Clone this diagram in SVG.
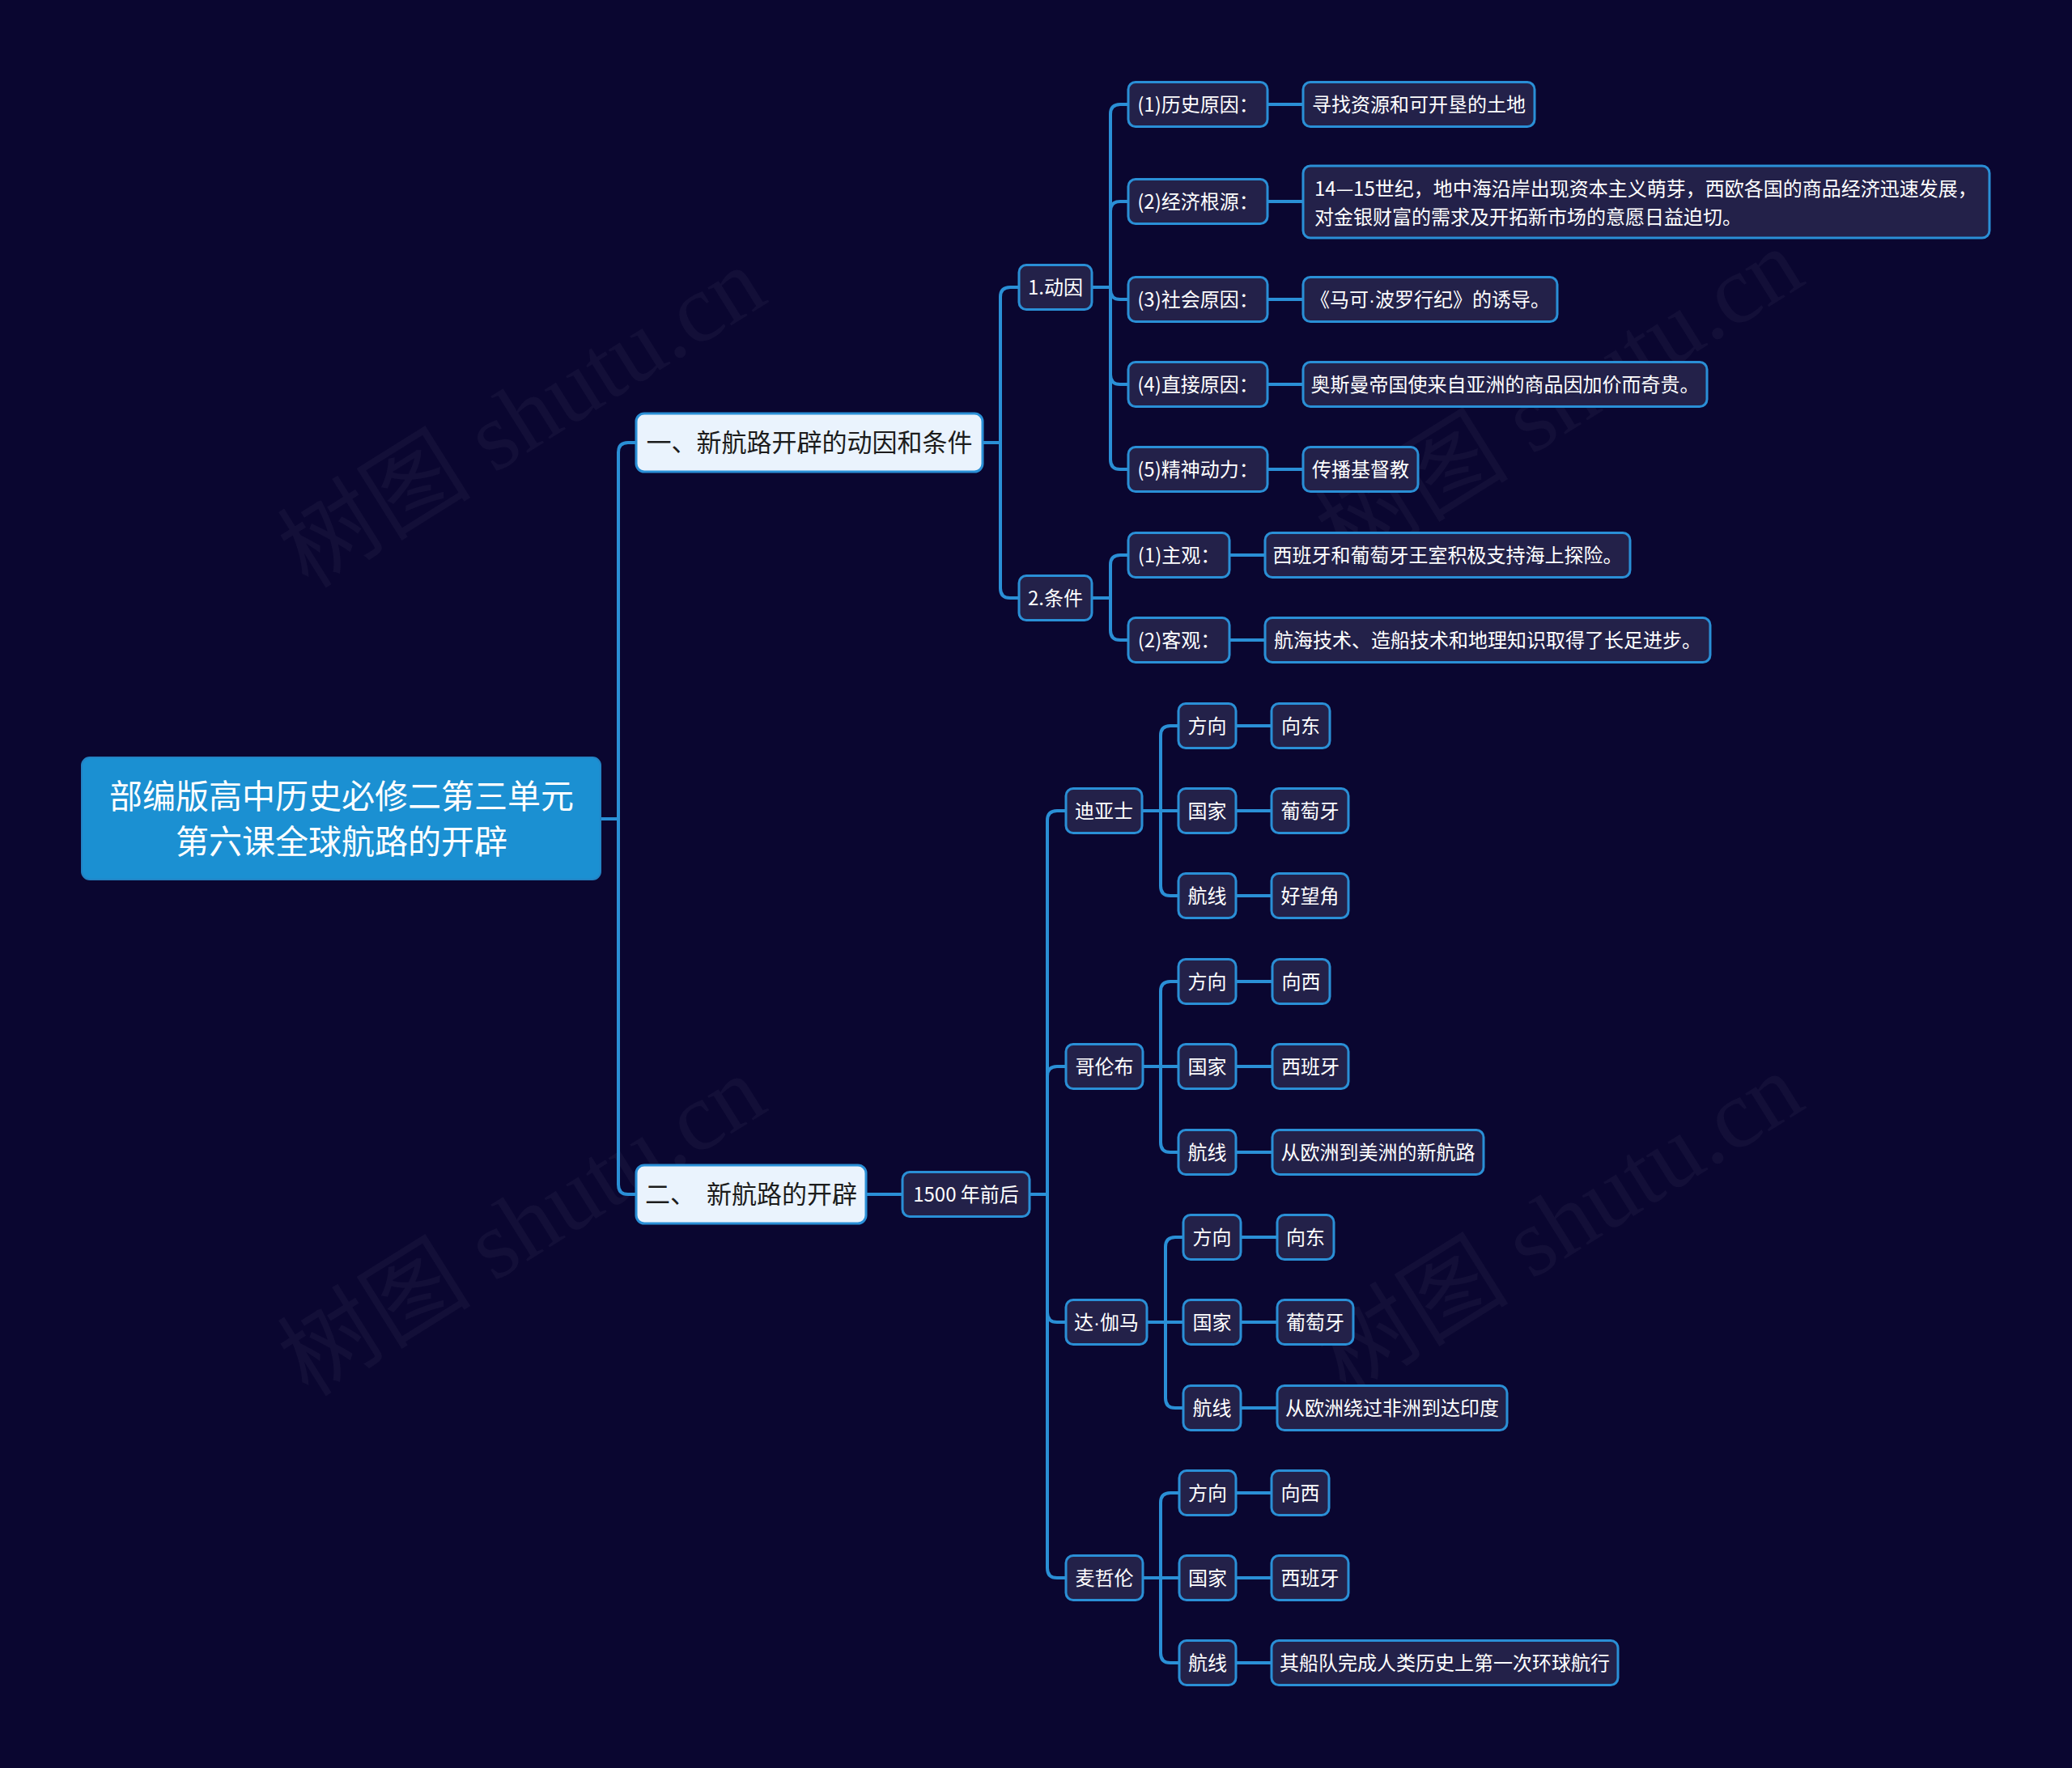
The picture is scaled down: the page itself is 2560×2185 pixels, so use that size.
<svg xmlns="http://www.w3.org/2000/svg" width="2560" height="2185" viewBox="0 0 2560 2185">
<defs>
<style>
.bg{fill:#0a0630}
.wm{font-family:"Liberation Serif","Noto Sans CJK SC",serif;font-size:120px;fill:#ffffff;fill-opacity:0.04}
.link{fill:none;stroke:#2a8fd6;stroke-width:4;stroke-linecap:round;stroke-linejoin:round}
.root rect{fill:#1b90d2;stroke:#2383c4;stroke-width:2}
.root text{font-family:"Noto Sans CJK SC","Noto Sans CJK JP",sans-serif;font-size:41px;fill:#ffffff;text-anchor:middle}
.l1 rect{fill:#eaf3fd;stroke:#2a8fd6;stroke-width:3}
.l1 text{font-family:"Noto Sans CJK SC","Noto Sans CJK JP",sans-serif;font-size:31px;fill:#1c1c1c;text-anchor:middle;white-space:pre}
.n rect{fill:#232149;stroke:#2a8fd6;stroke-width:3}
.n text{font-family:"Noto Sans CJK SC","Noto Sans CJK JP",sans-serif;font-size:24px;fill:#ffffff;text-anchor:middle}
.n text.left{text-anchor:start}
.dot{font-family:"Liberation Sans",sans-serif}
</style>
</defs>
<rect class="bg" x="0" y="0" width="2560" height="2185"/>
<g id="watermarks">
<text class="wm" x="645" y="516" text-anchor="middle" dominant-baseline="central" transform="rotate(-32 645 516)">树图 shutu.cn</text>
<text class="wm" x="645" y="1515" text-anchor="middle" dominant-baseline="central" transform="rotate(-32 645 1515)">树图 shutu.cn</text>
<text class="wm" x="1927" y="493" text-anchor="middle" dominant-baseline="central" transform="rotate(-32 1927 493)">树图 shutu.cn</text>
<text class="wm" x="1927" y="1512" text-anchor="middle" dominant-baseline="central" transform="rotate(-32 1927 1512)">树图 shutu.cn</text>
</g>
<g id="connectors">
<path class="link" d="M742 1012 H764 V559 Q764 547 776 547 H786"/>
<path class="link" d="M742 1012 H764 V1464 Q764 1476 776 1476 H786"/>
<path class="link" d="M1214 547 H1236 V367 Q1236 355 1248 355 H1259"/>
<path class="link" d="M1214 547 H1236 V727 Q1236 739 1248 739 H1259"/>
<path class="link" d="M1349 355 H1372 V141 Q1372 129 1384 129 H1394"/>
<path class="link" d="M1349 355 H1372 V261 Q1372 249 1384 249 H1394"/>
<path class="link" d="M1349 355 H1372 V358 Q1372 370 1384 370 H1394"/>
<path class="link" d="M1349 355 H1372 V463 Q1372 475 1384 475 H1394"/>
<path class="link" d="M1349 355 H1372 V568 Q1372 580 1384 580 H1394"/>
<path class="link" d="M1349 739 H1372 V698 Q1372 686 1384 686 H1394"/>
<path class="link" d="M1349 739 H1372 V779 Q1372 791 1384 791 H1394"/>
<path class="link" d="M1566 129 H1610"/>
<path class="link" d="M1566 249 H1610"/>
<path class="link" d="M1566 370 H1610"/>
<path class="link" d="M1566 475 H1610"/>
<path class="link" d="M1566 580 H1610"/>
<path class="link" d="M1519 686 H1563"/>
<path class="link" d="M1519 791 H1563"/>
<path class="link" d="M1070 1476 H1115"/>
<path class="link" d="M1272 1476 H1294 V1014 Q1294 1002 1306 1002 H1317"/>
<path class="link" d="M1272 1476 H1294 V1330 Q1294 1318 1306 1318 H1317"/>
<path class="link" d="M1272 1476 H1294 V1622 Q1294 1634 1306 1634 H1317"/>
<path class="link" d="M1272 1476 H1294 V1938 Q1294 1950 1306 1950 H1317"/>
<path class="link" d="M1411 1002 H1434 V909 Q1434 897 1446 897 H1456"/>
<path class="link" d="M1411 1002 H1456"/>
<path class="link" d="M1411 1002 H1434 V1095 Q1434 1107 1446 1107 H1456"/>
<path class="link" d="M1527 897 H1571"/>
<path class="link" d="M1527 1002 H1571"/>
<path class="link" d="M1527 1107 H1571"/>
<path class="link" d="M1412 1318 H1434 V1225 Q1434 1213 1446 1213 H1456"/>
<path class="link" d="M1412 1318 H1456"/>
<path class="link" d="M1412 1318 H1434 V1412 Q1434 1424 1446 1424 H1456"/>
<path class="link" d="M1527 1213 H1572"/>
<path class="link" d="M1527 1318 H1572"/>
<path class="link" d="M1527 1424 H1572"/>
<path class="link" d="M1417 1634 H1440 V1541 Q1440 1529 1452 1529 H1462"/>
<path class="link" d="M1417 1634 H1462"/>
<path class="link" d="M1417 1634 H1440 V1728 Q1440 1740 1452 1740 H1462"/>
<path class="link" d="M1533 1529 H1578"/>
<path class="link" d="M1533 1634 H1578"/>
<path class="link" d="M1533 1740 H1578"/>
<path class="link" d="M1412 1950 H1434 V1857 Q1434 1845 1446 1845 H1457"/>
<path class="link" d="M1412 1950 H1457"/>
<path class="link" d="M1412 1950 H1434 V2043 Q1434 2055 1446 2055 H1457"/>
<path class="link" d="M1527 1845 H1571"/>
<path class="link" d="M1527 1950 H1571"/>
<path class="link" d="M1527 2055 H1571"/>
</g>
<g id="root" class="root"><rect x="101" y="936" width="641" height="151" rx="10"/><text x="422" y="999">部编版高中历史必修二第三单元</text><text x="422" y="1055">第六课全球航路的开辟</text></g>
<g id="n1" class="l1"><rect x="786" y="511" width="428" height="72" rx="10"/><text x="1000" y="558">一、新航路开辟的动因和条件</text></g>
<g id="n2" class="l1"><rect x="786" y="1440" width="284" height="72" rx="10"/><text x="928" y="1487">二、  新航路的开辟</text></g>
<g id="n1-1" class="n"><rect x="1259" y="327.5" width="90" height="55" rx="9"/><text x="1304" y="363.5">1.动因</text></g>
<g id="n1-2" class="n"><rect x="1259" y="711.5" width="90" height="55" rx="9"/><text x="1304" y="747.5">2.条件</text></g>
<g id="n1-1-1" class="n"><rect x="1394" y="101.5" width="172" height="55" rx="9"/><text x="1480" y="137.5">(1)历史原因：</text></g>
<g id="n1-1-1v" class="n"><rect x="1610" y="101.5" width="286" height="55" rx="9"/><text x="1753" y="137.5">寻找资源和可开垦的土地</text></g>
<g id="n1-1-2" class="n"><rect x="1394" y="221.5" width="172" height="55" rx="9"/><text x="1480" y="257.5">(2)经济根源：</text></g>
<g id="n1-1-2v" class="n"><rect x="1610" y="205" width="848" height="89" rx="9"/><text class="left" x="1624" y="242">14—15世纪，地中海沿岸出现资本主义萌芽，西欧各国的商品经济迅速发展，</text><text class="left" x="1624" y="277">对金银财富的需求及开拓新市场的意愿日益迫切。</text></g>
<g id="n1-1-3" class="n"><rect x="1394" y="342.5" width="172" height="55" rx="9"/><text x="1480" y="378.5">(3)社会原因：</text></g>
<g id="n1-1-3v" class="n"><rect x="1610" y="342.5" width="314" height="55" rx="9"/><text x="1767" y="378.5">《马可<tspan class="dot">·</tspan>波罗行纪》的诱导。</text></g>
<g id="n1-1-4" class="n"><rect x="1394" y="447.5" width="172" height="55" rx="9"/><text x="1480" y="483.5">(4)直接原因：</text></g>
<g id="n1-1-4v" class="n"><rect x="1610" y="447.5" width="499" height="55" rx="9"/><text x="1859.5" y="483.5">奥斯曼帝国使来自亚洲的商品因加价而奇贵。</text></g>
<g id="n1-1-5" class="n"><rect x="1394" y="552.5" width="172" height="55" rx="9"/><text x="1480" y="588.5">(5)精神动力：</text></g>
<g id="n1-1-5v" class="n"><rect x="1610" y="552.5" width="142" height="55" rx="9"/><text x="1681" y="588.5">传播基督教</text></g>
<g id="n1-2-1" class="n"><rect x="1394" y="658.5" width="125" height="55" rx="9"/><text x="1456.5" y="694.5">(1)主观：</text></g>
<g id="n1-2-1v" class="n"><rect x="1563" y="658.5" width="451" height="55" rx="9"/><text x="1788.5" y="694.5">西班牙和葡萄牙王室积极支持海上探险。</text></g>
<g id="n1-2-2" class="n"><rect x="1394" y="763.5" width="125" height="55" rx="9"/><text x="1456.5" y="799.5">(2)客观：</text></g>
<g id="n1-2-2v" class="n"><rect x="1563" y="763.5" width="550" height="55" rx="9"/><text x="1838" y="799.5">航海技术、造船技术和地理知识取得了长足进步。</text></g>
<g id="n2-1" class="n"><rect x="1115" y="1448.5" width="157" height="55" rx="9"/><text x="1193.5" y="1484.5">1500 年前后</text></g>
<g id="dias" class="n"><rect x="1317" y="974.5" width="94" height="55" rx="9"/><text x="1364" y="1010.5">迪亚士</text></g>
<g id="dias-1" class="n"><rect x="1456" y="869.5" width="71" height="55" rx="9"/><text x="1491.5" y="905.5">方向</text></g>
<g id="dias-1v" class="n"><rect x="1571" y="869.5" width="72" height="55" rx="9"/><text x="1607" y="905.5">向东</text></g>
<g id="dias-2" class="n"><rect x="1456" y="974.5" width="71" height="55" rx="9"/><text x="1491.5" y="1010.5">国家</text></g>
<g id="dias-2v" class="n"><rect x="1571" y="974.5" width="95" height="55" rx="9"/><text x="1618.5" y="1010.5">葡萄牙</text></g>
<g id="dias-3" class="n"><rect x="1456" y="1079.5" width="71" height="55" rx="9"/><text x="1491.5" y="1115.5">航线</text></g>
<g id="dias-3v" class="n"><rect x="1571" y="1079.5" width="95" height="55" rx="9"/><text x="1618.5" y="1115.5">好望角</text></g>
<g id="columbus" class="n"><rect x="1317" y="1290.5" width="95" height="55" rx="9"/><text x="1364.5" y="1326.5">哥伦布</text></g>
<g id="columbus-1" class="n"><rect x="1456" y="1185.5" width="71" height="55" rx="9"/><text x="1491.5" y="1221.5">方向</text></g>
<g id="columbus-1v" class="n"><rect x="1572" y="1185.5" width="71" height="55" rx="9"/><text x="1607.5" y="1221.5">向西</text></g>
<g id="columbus-2" class="n"><rect x="1456" y="1290.5" width="71" height="55" rx="9"/><text x="1491.5" y="1326.5">国家</text></g>
<g id="columbus-2v" class="n"><rect x="1572" y="1290.5" width="94" height="55" rx="9"/><text x="1619" y="1326.5">西班牙</text></g>
<g id="columbus-3" class="n"><rect x="1456" y="1396.5" width="71" height="55" rx="9"/><text x="1491.5" y="1432.5">航线</text></g>
<g id="columbus-3v" class="n"><rect x="1572" y="1396.5" width="261" height="55" rx="9"/><text x="1702.5" y="1432.5">从欧洲到美洲的新航路</text></g>
<g id="gama" class="n"><rect x="1317" y="1606.5" width="100" height="55" rx="9"/><text x="1367" y="1642.5">达<tspan class="dot">·</tspan>伽马</text></g>
<g id="gama-1" class="n"><rect x="1462" y="1501.5" width="71" height="55" rx="9"/><text x="1497.5" y="1537.5">方向</text></g>
<g id="gama-1v" class="n"><rect x="1578" y="1501.5" width="70" height="55" rx="9"/><text x="1613" y="1537.5">向东</text></g>
<g id="gama-2" class="n"><rect x="1462" y="1606.5" width="71" height="55" rx="9"/><text x="1497.5" y="1642.5">国家</text></g>
<g id="gama-2v" class="n"><rect x="1578" y="1606.5" width="94" height="55" rx="9"/><text x="1625" y="1642.5">葡萄牙</text></g>
<g id="gama-3" class="n"><rect x="1462" y="1712.5" width="71" height="55" rx="9"/><text x="1497.5" y="1748.5">航线</text></g>
<g id="gama-3v" class="n"><rect x="1578" y="1712.5" width="284" height="55" rx="9"/><text x="1720" y="1748.5">从欧洲绕过非洲到达印度</text></g>
<g id="magellan" class="n"><rect x="1317" y="1922.5" width="95" height="55" rx="9"/><text x="1364.5" y="1958.5">麦哲伦</text></g>
<g id="magellan-1" class="n"><rect x="1457" y="1817.5" width="70" height="55" rx="9"/><text x="1492" y="1853.5">方向</text></g>
<g id="magellan-1v" class="n"><rect x="1571" y="1817.5" width="71" height="55" rx="9"/><text x="1606.5" y="1853.5">向西</text></g>
<g id="magellan-2" class="n"><rect x="1457" y="1922.5" width="70" height="55" rx="9"/><text x="1492" y="1958.5">国家</text></g>
<g id="magellan-2v" class="n"><rect x="1571" y="1922.5" width="95" height="55" rx="9"/><text x="1618.5" y="1958.5">西班牙</text></g>
<g id="magellan-3" class="n"><rect x="1457" y="2027.5" width="70" height="55" rx="9"/><text x="1492" y="2063.5">航线</text></g>
<g id="magellan-3v" class="n"><rect x="1571" y="2027.5" width="428" height="55" rx="9"/><text x="1785" y="2063.5">其船队完成人类历史上第一次环球航行</text></g>
</svg>
